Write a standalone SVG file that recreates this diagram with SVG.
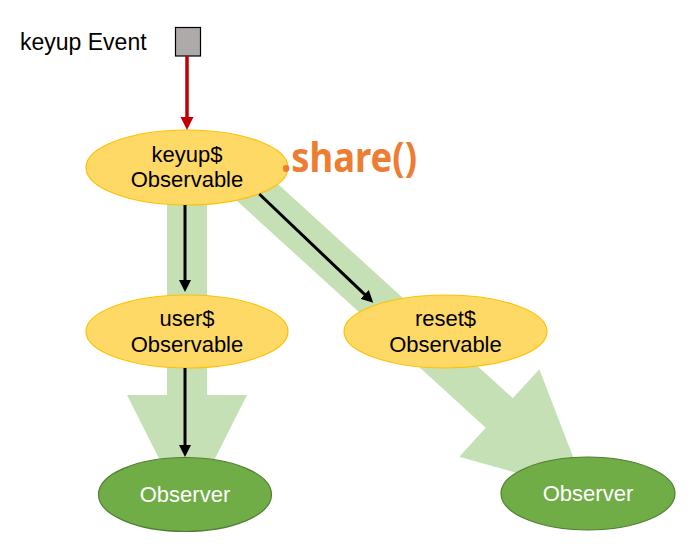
<svg xmlns="http://www.w3.org/2000/svg" width="700" height="554" viewBox="0 0 700 554">
<style>
  .lbl { font-family: "Liberation Sans", Arial, sans-serif; font-size: 22px; fill: #000; text-anchor: middle; }
  .obs { fill: #FFD966; stroke: #FFC000; stroke-width: 1.2; }
  .obsr { fill: #70AD47; stroke: #507E32; stroke-width: 1.2; }
  .wlbl { font-family: "Liberation Sans", Arial, sans-serif; font-size: 22px; fill: #fff; text-anchor: middle; }
  .flow { fill: #C5E0B4; stroke: none; }
  .conn { stroke: #000; stroke-width: 3; fill: none; marker-end: url(#ah); }
</style>
<defs>
  <marker id="ah" markerUnits="userSpaceOnUse" markerWidth="13" markerHeight="12" refX="4" refY="6" orient="auto">
    <path d="M0,0 L12,6 L0,12 z" fill="#000"/>
  </marker>
  <marker id="ahr" markerUnits="userSpaceOnUse" markerWidth="14" markerHeight="14" refX="4" refY="6.5" orient="auto">
    <path d="M0,0 L13,6.5 L0,13 z" fill="#C00000"/>
  </marker>
</defs>

<g id="flows">
  <polygon class="flow" points="167,190 207,190 207,395 247,395 187,514 127,395 167,395"/>
  <polygon class="flow" points="253.5,161.7 512.8,398.2 539.3,369.3 587,493 459.3,456.7 485.8,427.8 226.5,191.3"/>
</g>

<g id="keyup-event">
  <text x="20" y="50" font-family="Liberation Sans, Arial, sans-serif" font-size="23" fill="#000">keyup Event</text>
  <rect x="175.5" y="27.5" width="25" height="28.5" fill="#AEAAAA" stroke="#000" stroke-width="1.2"/>
</g>

<g id="keyup">
  <ellipse class="obs" cx="187" cy="167.5" rx="101" ry="37.5"/>
  <text class="lbl" x="187" y="162">keyup$</text>
  <text class="lbl" x="187" y="187">Observable</text>
</g>

<g id="user">
  <ellipse class="obs" cx="187" cy="331.5" rx="101" ry="36.5"/>
  <text class="lbl" x="187" y="326">user$</text>
  <text class="lbl" x="187" y="352">Observable</text>
</g>

<g id="reset">
  <ellipse class="obs" cx="445.5" cy="331.5" rx="101.5" ry="36.5"/>
  <text class="lbl" x="445.5" y="326">reset$</text>
  <text class="lbl" x="445.5" y="352">Observable</text>
</g>

<g id="observer1">
  <ellipse class="obsr" cx="185" cy="494.5" rx="86.5" ry="37"/>
  <text class="wlbl" x="185" y="502">Observer</text>
</g>

<g id="observer2">
  <ellipse class="obsr" cx="588" cy="493.5" rx="87" ry="36.5"/>
  <text class="wlbl" x="588" y="501">Observer</text>
</g>

<g id="connectors">
  <line x1="187" y1="56" x2="187" y2="121" stroke="#C00000" stroke-width="3.5" marker-end="url(#ahr)"/>
  <line class="conn" x1="185" y1="205" x2="185" y2="284"/>
  <line class="conn" x1="259.3" y1="194" x2="367.5" y2="297.2"/>
  <line class="conn" x1="185" y1="368" x2="185" y2="449"/>
</g>

<g id="share-label">
  <text x="281" y="172" font-family="Noto Sans, Open Sans, Liberation Sans, sans-serif" font-size="42" font-weight="bold" fill="#ED7D31" textLength="136" lengthAdjust="spacingAndGlyphs">.share()</text>
</g>
</svg>
